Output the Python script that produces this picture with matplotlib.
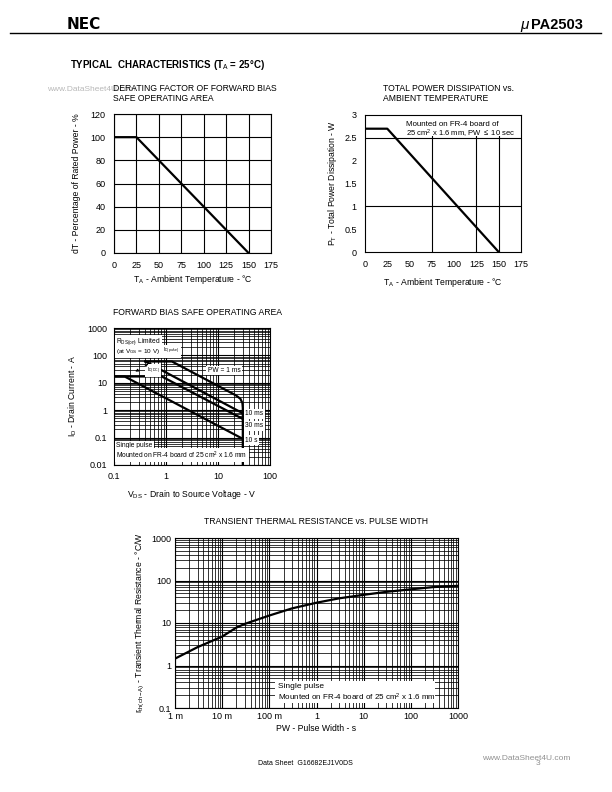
import matplotlib
matplotlib.use('Agg')
import matplotlib.pyplot as plt
from matplotlib.patches import Rectangle

plt.rcParams['font.family'] = ['Liberation Sans', 'DejaVu Sans']
plt.rcParams['mathtext.fontset'] = 'custom'
plt.rcParams['mathtext.rm'] = 'Liberation Sans'
plt.rcParams['mathtext.it'] = 'Liberation Sans:italic'

# derating factor
derate_t = [0, 25, 150]
derate_pct = [100, 100, 0]

# total power dissipation
pt_t = [0, 25, 150]
pt_w = [2.7, 2.7, 0]

# forward bias SOA (single pulse)
soa_1ms_v = [0.4, 1.3, 22, 27, 29.5, 30, 30]
soa_1ms_i = [60, 60, 3.5, 2.6, 1.8, 1.2, 0.01]
soa_10ms_v = [0.4, 30]
soa_10ms_i = [60, 0.77]
soa_30ms_v = [0.1, 0.83, 30]
soa_30ms_i = [17, 17, 0.48]
soa_10s_v = [0.1, 0.16, 30]
soa_10s_i = [17, 17, 0.09]

# transient thermal resistance
pw_s = [1e-3, 3e-3, 1e-2, 2e-2, 3e-2, 1e-1, 3e-1, 1, 3, 10, 30, 100, 300, 1000]
rth = [1.45, 2.7, 4.8, 7.8, 9.5, 15, 22, 30, 38, 46, 54, 62, 70, 75]

W, H = 612, 792
fig = plt.figure(figsize=(6.12, 7.92), dpi=100)


def box(x0, y0, x1, y1):
    return [x0 / W, 1 - y1 / H, (x1 - x0) / W, (y1 - y0) / H]


fs = 6.5
lab = 6.2

# page header
fig.text(67 / W, 1 - 29 / H, 'NEC', fontsize=11, fontweight='heavy', family='DejaVu Sans')
fig.text(520 / W, 1 - 29 / H, r'$\mu$', fontsize=11, style='italic')
fig.text(531 / W, 1 - 29 / H, 'PA2503', fontsize=10.5, fontweight='bold')
fig.add_artist(plt.Line2D([10 / W, 601 / W], [1 - 33 / H, 1 - 33 / H], color='black', lw=1))
fig.text(70 / W, 1 - 68 / H, 'TYPICAL  CHARACTERISTICS (T$_\\mathrm{A}$ = 25°C)',
         fontsize=7, fontweight='bold')

# ---- derating chart
ax1 = fig.add_axes(box(114, 114, 271, 253))
ax1.plot(derate_t, derate_pct, color='black', lw=1.6, zorder=3)
ax1.set_xlim(0, 175)
ax1.set_ylim(0, 120)
ax1.set_xticks(range(0, 176, 25))
ax1.set_yticks(range(0, 121, 20))
ax1.grid(color='black', lw=0.8)
ax1.tick_params(length=0, labelsize=fs, pad=6)
ax1.set_ylabel('dT - Percentage of Rated Power - %', fontsize=lab, labelpad=7)
ax1.set_xlabel('T$_\\mathrm{A}$ - Ambient Temperature - °C', fontsize=lab, labelpad=2)
fig.text(47 / W, 1 - 91 / H, 'www.DataSheet4U.com', fontsize=6, color='#b8b8b8')
fig.text(113 / W, 1 - 84 / H, 'DERATING FACTOR OF FORWARD BIAS\nSAFE OPERATING AREA',
         fontsize=lab, linespacing=1.2, va='top')

# ---- power dissipation chart
ax2 = fig.add_axes(box(365, 115, 521, 252))
ax2.plot(pt_t, pt_w, color='black', lw=1.6, zorder=3)
ax2.set_xlim(0, 175)
ax2.set_ylim(0, 3)
ax2.set_xticks(range(0, 176, 25))
ax2.set_yticks([0, 0.5, 1, 1.5, 2, 2.5, 3])
ax2.set_yticklabels(['0', '0.5', '1', '1.5', '2', '2.5', '3'])
for yv in [1, 2.5]:
    ax2.axhline(yv, color='black', lw=0.8, zorder=1)
for xv in [75, 125, 150]:
    ax2.axvline(xv, color='black', lw=0.8, zorder=1)
ax2.add_patch(Rectangle((40, 2.53), 134, 0.46, facecolor='white', edgecolor='none', zorder=2))
ax2.text(46, 2.80, 'Mounted on FR-4 board of', fontsize=5.7, va='center', zorder=4)
ax2.text(46, 2.58, '25 cm$^2$ x 1.6 mm, PW $\\leq$ 10 sec', fontsize=5.5, va='center', zorder=4)
ax2.tick_params(length=0, labelsize=fs, pad=6)
ax2.set_ylabel('P$_\\mathrm{T}$ - Total Power Dissipation - W', fontsize=lab, labelpad=4)
ax2.set_xlabel('T$_\\mathrm{A}$ - Ambient Temperature - °C', fontsize=lab, labelpad=5)
fig.text(383 / W, 1 - 84 / H, 'TOTAL POWER DISSIPATION vs.\nAMBIENT TEMPERATURE',
         fontsize=lab, linespacing=1.2, va='top')

# ---- forward bias SOA
ax3 = fig.add_axes(box(114, 328, 270, 465))
for v, i in [(soa_1ms_v, soa_1ms_i), (soa_10ms_v, soa_10ms_i),
             (soa_30ms_v, soa_30ms_i), (soa_10s_v, soa_10s_i)]:
    ax3.plot(v, i, color='black', lw=1.6, zorder=3)
ax3.set_xscale('log')
ax3.set_yscale('log')
ax3.set_xlim(0.1, 100)
ax3.set_ylim(0.01, 1000)
ax3.set_xticks([0.1, 1, 10, 100])
ax3.set_xticklabels(['0.1', '1', '10', '100'])
ax3.set_yticks([0.01, 0.1, 1, 10, 100, 1000])
ax3.set_yticklabels(['0.01', '0.1', '1', '10', '100', '1000'])
ax3.grid(which='major', color='black', lw=0.8)
ax3.grid(which='minor', color='black', lw=0.55)
ax3.set_axisbelow(True)
ax3.tick_params(which='both', length=0, labelsize=fs, pad=5)
ax3.set_ylabel('I$_\\mathrm{D}$ - Drain Current - A', fontsize=lab, labelpad=6)
ax3.set_xlabel('V$_\\mathrm{DS}$ - Drain to Source Voltage - V', fontsize=lab, labelpad=5)
wb = dict(facecolor='white', edgecolor='none', pad=1)
small = 4.8
ax3.text(0.015, 0.90, 'R$_\\mathrm{DS(on)}$ Limited', transform=ax3.transAxes, fontsize=small,
         va='center', bbox=wb, zorder=4)
ax3.text(0.015, 0.827, '(at V$_\\mathrm{GS}$ = 10 V)', transform=ax3.transAxes, fontsize=4.6,
         va='center', bbox=wb, zorder=4)
ax3.text(0.315, 0.83, 'I$_\\mathrm{D(pulse)}$', transform=ax3.transAxes, fontsize=3.6,
         va='center', bbox=wb, zorder=4)
ax3.text(0.21, 0.69, 'I$_\\mathrm{D(DC)}$', transform=ax3.transAxes, fontsize=3.6,
         va='center', bbox=wb, zorder=4)
ax3.annotate('', xy=(0.12, 0.675), xytext=(0.17, 0.70), xycoords='axes fraction',
             arrowprops=dict(arrowstyle='-|>', lw=0.6, color='black', mutation_scale=4), zorder=4)
ax3.annotate('', xy=(0.235, 0.745), xytext=(0.20, 0.725), xycoords='axes fraction',
             arrowprops=dict(arrowstyle='-|>', lw=0.6, color='black', mutation_scale=4), zorder=4)
ax3.text(0.60, 0.69, 'PW = 1 ms', transform=ax3.transAxes, fontsize=small,
         va='center', bbox=wb, zorder=4)
ax3.text(0.84, 0.375, '10 ms', transform=ax3.transAxes, fontsize=small,
         va='center', bbox=wb, zorder=4)
ax3.text(0.84, 0.287, '30 ms', transform=ax3.transAxes, fontsize=small,
         va='center', bbox=wb, zorder=4)
ax3.text(0.84, 0.18, '10 s', transform=ax3.transAxes, fontsize=small,
         va='center', bbox=wb, zorder=4)
ax3.text(0.015, 0.14, 'Single pulse', transform=ax3.transAxes, fontsize=small,
         va='center', bbox=wb, zorder=4)
ax3.text(0.015, 0.073, 'Mounted on FR-4 board of 25 cm$^2$ x 1.6 mm', transform=ax3.transAxes,
         fontsize=small, va='center', bbox=wb, zorder=4)
fig.text(113 / W, 1 - 315 / H, 'FORWARD BIAS SAFE OPERATING AREA', fontsize=lab, va='baseline')

# ---- transient thermal resistance
ax4 = fig.add_axes(box(175, 538, 458, 708))
ax4.plot(pw_s, rth, color='black', lw=1.6, zorder=3)
ax4.set_xscale('log')
ax4.set_yscale('log')
ax4.set_xlim(1e-3, 1000)
ax4.set_ylim(0.1, 1000)
ax4.set_xticks([1e-3, 1e-2, 1e-1, 1, 10, 100, 1000])
ax4.set_xticklabels(['1 m', '10 m', '100 m', '1', '10', '100', '1000'])
ax4.set_yticks([0.1, 1, 10, 100, 1000])
ax4.set_yticklabels(['0.1', '1', '10', '100', '1000'])
ax4.grid(which='major', color='black', lw=0.8)
ax4.grid(which='minor', color='black', lw=0.55)
ax4.set_axisbelow(True)
ax4.tick_params(which='both', length=0, labelsize=fs, pad=3)
ax4.add_patch(Rectangle((0.13, 0.13), 320, 0.3, facecolor='white', edgecolor='none', zorder=2))
ax4.text(0.15, 0.32, 'Single pulse', fontsize=6, va='center', zorder=4)
ax4.text(0.15, 0.18, 'Mounted on FR-4 board of 25 cm$^2$ x 1.6 mm', fontsize=5.8,
         va='center', zorder=4)
ax4.set_ylabel('r$_\\mathrm{th(ch-A)}$ - Transient Thermal Resistance - °C/W', fontsize=lab, labelpad=3)
ax4.set_xlabel('PW - Pulse Width - s', fontsize=lab, labelpad=2)
fig.text(316 / W, 1 - 524 / H, 'TRANSIENT THERMAL RESISTANCE vs. PULSE WIDTH',
         fontsize=lab, ha='center', va='baseline')

# footer
fig.text(258 / W, 1 - 765 / H, 'Data Sheet  G16682EJ1V0DS', fontsize=5)
fig.text(482 / W, 1 - 760 / H, 'www.DataSheet4U.com', fontsize=6, color='#909090')
fig.text(536 / W, 1 - 765 / H, '3', fontsize=6, color='#909090')

fig.savefig('out.png', dpi=100, facecolor='white')
